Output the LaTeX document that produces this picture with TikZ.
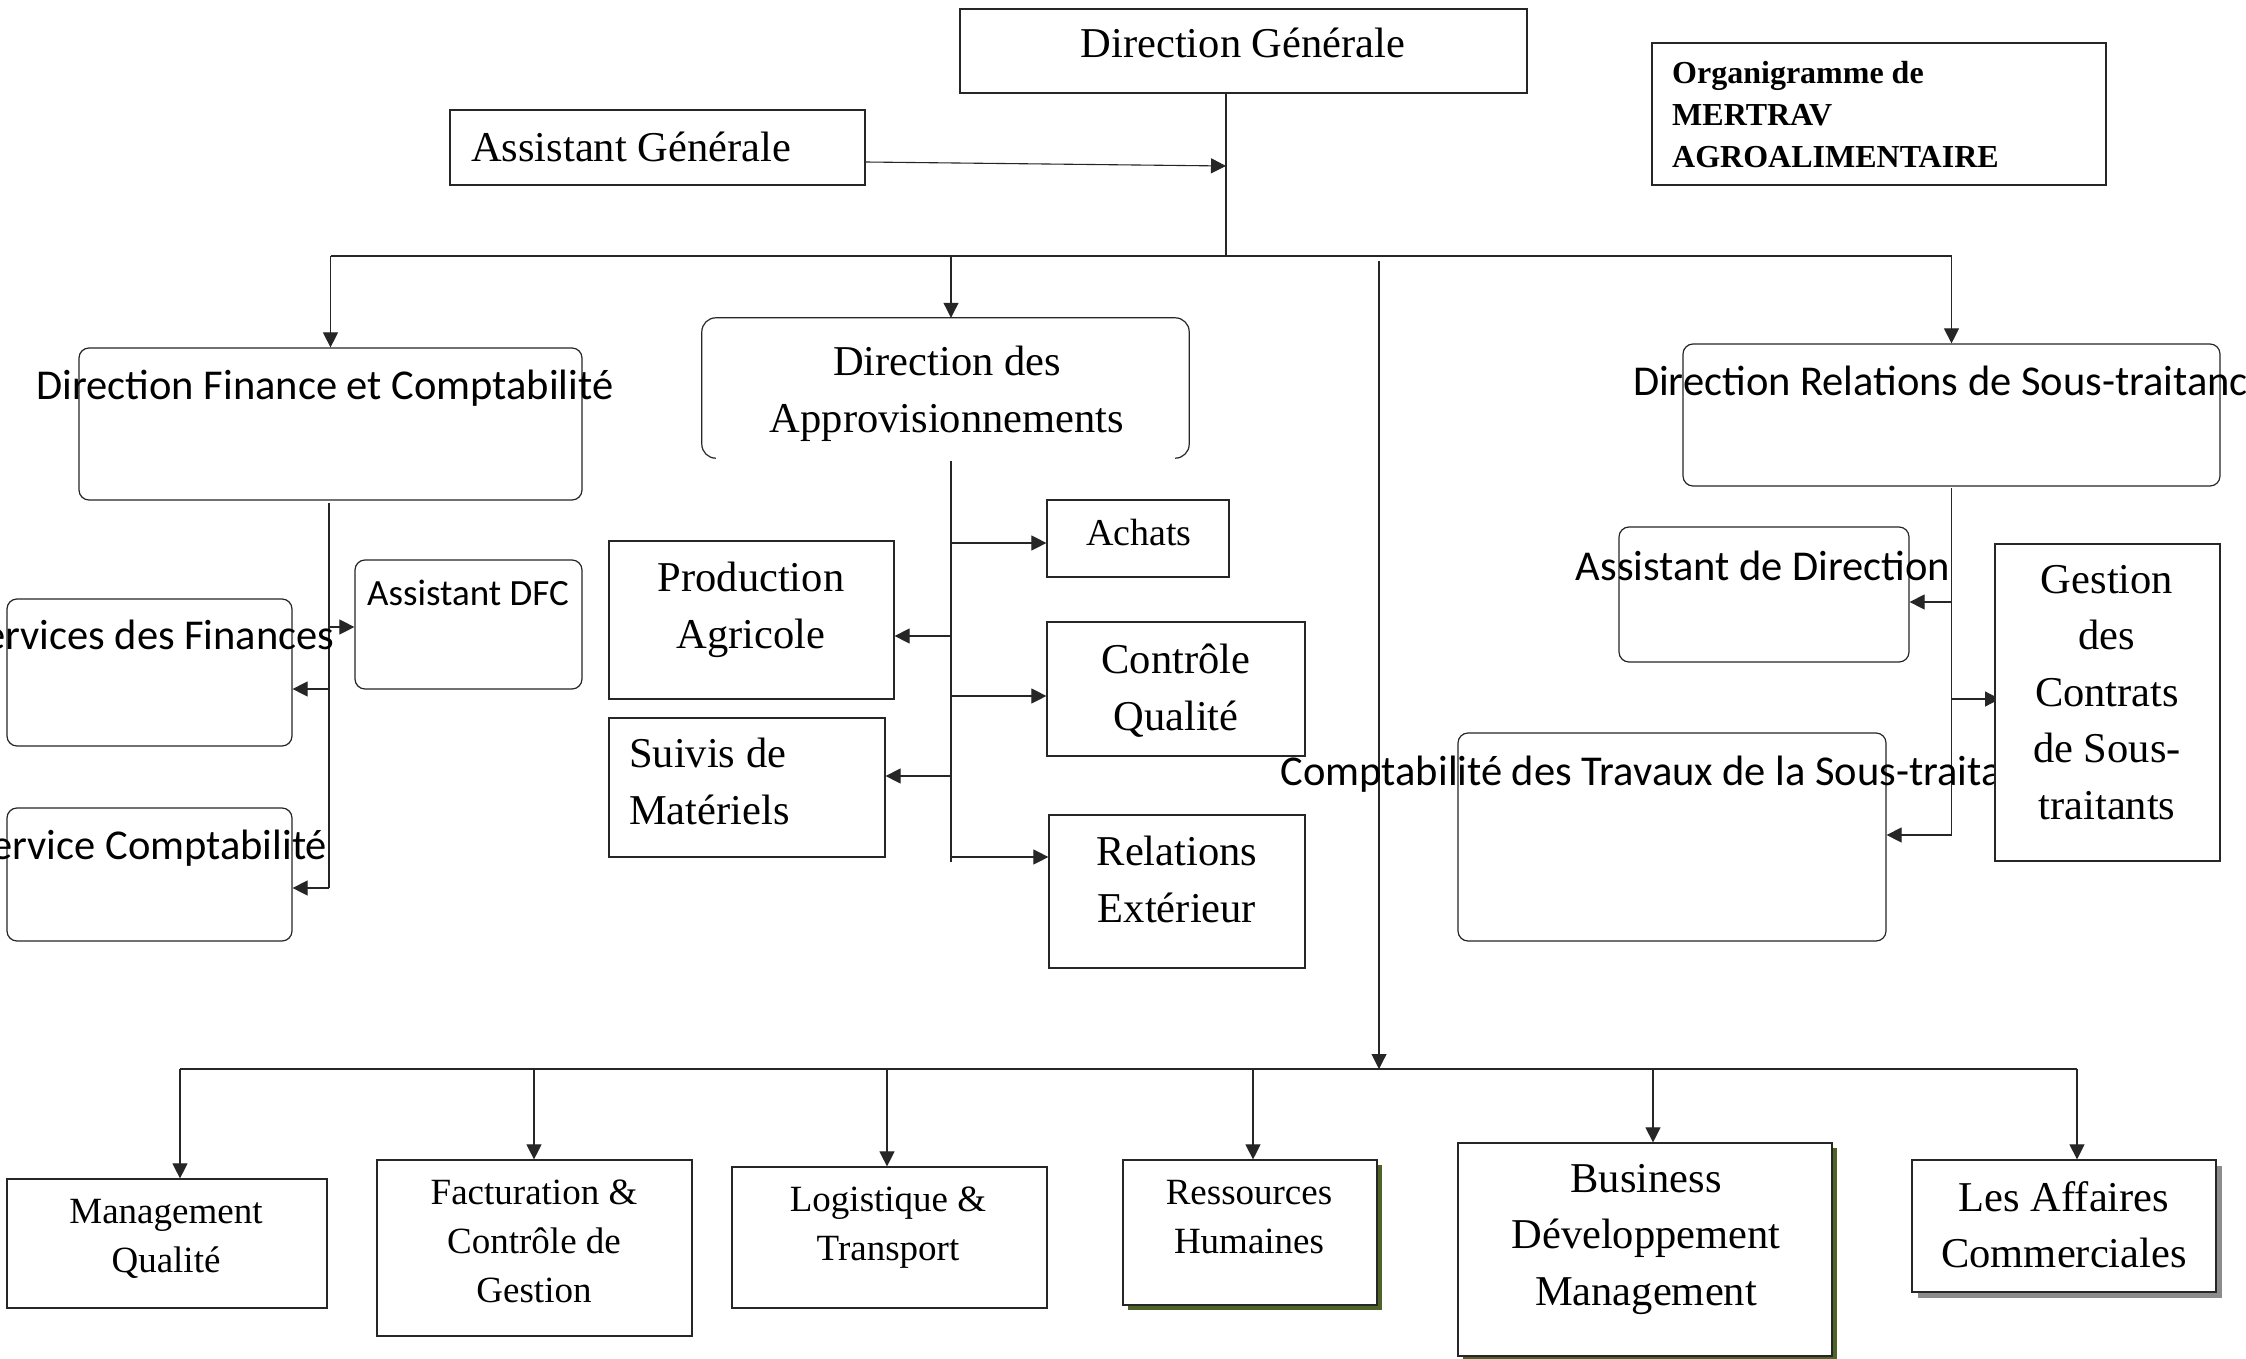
\documentclass[tikz,border=0pt]{standalone}
\usepackage{fontspec}
\setmainfont{Liberation Serif}
\newfontfamily\calibfont{Carlito}
\usetikzlibrary{arrows.meta,shadows}
\definecolor{olivedark}{RGB}{79,98,40}
\definecolor{shadowgrey}{RGB}{140,140,140}
\begin{document}
\begin{tikzpicture}[x=1pt,y=-1pt,
  box/.style={draw=black!85,line width=1.2pt,fill=white,inner sep=0pt},
  rbox/.style={box,rounded corners=10pt},
  sz/.style n args={2}{minimum width=#1pt,minimum height=#2pt},
  wire/.style={line width=1.1pt,draw=black!85},
  arr/.style={wire,-{Triangle[length=15pt,width=15pt]}},
  lbl/.style={inner sep=0pt,align=center},
  serif/.style={lbl,font=\fontsize{42.5}{56.5}\selectfont},
  serifsm/.style={lbl,font=\fontsize{37}{49}\selectfont},
  sans/.style={lbl,font=\calibfont\fontsize{42.5}{51}\selectfont},
  sanssm/.style={lbl,font=\calibfont\fontsize{37}{45}\selectfont},
  titlefont/.style={inner sep=0pt,align=left,font=\bfseries\fontsize{32}{42}\selectfont},
  oliveshadow/.style={drop shadow={shadow xshift=4.5pt,shadow yshift=-4.5pt,fill=olivedark,opacity=1}},
  greyshadow/.style={drop shadow={shadow xshift=6pt,shadow yshift=-6pt,fill=shadowgrey,opacity=1}},
]
\clip (0,0) rectangle (2246,1359);
\fill[white] (0,0) rectangle (2246,1359);

% ---------- top level ----------
\node[box,sz={567}{84}] (dg) at (1243.5,51) {};
\node[box,sz={415}{75}] (ag) at (657.5,147.5) {};
\node[box,sz={454}{142}] (org) at (1879,114) {};

% ---------- finance branch ----------
\node[rbox,sz={503}{152}] (dfc) at (330.5,424) {};
\node[rbox,sz={227}{129}] (adfc) at (468.5,624.5) {};
\node[rbox,sz={285}{147}] (sfin) at (149.5,672.5) {};
\node[rbox,sz={285}{133}] (scpt) at (149.5,874.5) {};

% ---------- supply branch ----------
\node[inner sep=0pt,sz={487}{140}] (appro) at (945.5,388) {};
\draw[line width=1.2pt,draw=black!85,rounded corners=14pt]
  ([xshift=14pt]appro.south west) -- (appro.south west) -- (appro.north west)
  -- (appro.north east) -- (appro.south east) -- ([xshift=-14pt]appro.south east);
\node[box,sz={182}{77}] (achats) at (1138,538.5) {};
\node[box,sz={285}{158}] (prod) at (751.5,620) {};
\node[box,sz={258}{134}] (cq) at (1176,689) {};
\node[box,sz={276}{139}] (suivi) at (747,787.5) {};
\node[box,sz={256}{153}] (relx) at (1177,891.5) {};

% ---------- subcontracting branch ----------
\node[rbox,sz={537}{142}] (drs) at (1951.5,415) {};
\node[rbox,sz={290}{135}] (adir) at (1764,594.5) {};
\node[rbox,sz={428}{208}] (ctst) at (1672,837) {};

% ---------- bottom row ----------
\node[box,sz={320}{129}] (mq) at (167,1243.5) {};
\node[box,sz={315}{176}] (fcg) at (534.5,1248) {};
\node[box,sz={315}{141}] (lt) at (889.5,1237.5) {};
\node[box,oliveshadow,sz={254}{145}] (rh) at (1250,1232.5) {};
\node[box,oliveshadow,sz={374}{213}] (bdm) at (1645,1249.5) {};
\node[box,greyshadow,sz={304}{132}] (lac) at (2064,1226) {};

% ---------- connectors: top ----------
\coordinate (dgfoot) at (1226,93);
\coordinate (hub) at (1226,256);
\coordinate (agin) at (1226,166);
\draw[wire] (dgfoot) -- (hub);
\draw[arr] (ag.east |- 0,162) -- (agin);
\coordinate (bL) at (330.5,256);
\coordinate (bM) at (951,256);
\coordinate (bR) at (1951.5,256);
\draw[wire] (bL) -- (bR);
\draw[arr] (bL) -- (dfc.north);
\draw[arr] (bM) -- (bM |- appro.north);
\draw[arr] (bR) -- (drs.north);

% central trunk to the bottom bus
\coordinate (trunkTop) at (1379,261);
\coordinate (trunkBot) at (1379,1069);
\draw[arr] (trunkTop) -- (trunkBot);
\coordinate (d1) at (180,1069);
\coordinate (d2) at (534,1069);
\coordinate (d3) at (887,1069);
\coordinate (d4) at (1253,1069);
\coordinate (d5) at (1653,1069);
\coordinate (d6) at (2077,1069);
\draw[wire] (d1) -- (d6);
\draw[arr] (d1) -- (d1 |- mq.north);
\draw[arr] (d2) -- (d2 |- fcg.north);
\draw[arr] (d3) -- (d3 |- lt.north);
\draw[arr] (d4) -- (d4 |- rh.north);
\draw[arr] (d5) -- (d5 |- bdm.north);
\draw[arr] (d6) -- (d6 |- lac.north);

% ---------- connectors: finance ----------
\coordinate (fT) at (329,503);
\coordinate (fB) at (329,888);
\draw[wire] (fT) -- (fB);
\draw[arr] (fT |- 0,627) -- (adfc.west |- 0,627);
\draw[arr] (fT |- 0,689) -- (sfin.east |- 0,689);
\draw[arr] (fB) -- (scpt.east |- fB);

% ---------- connectors: supply ----------
\coordinate (aT) at (951,461);
\coordinate (aB) at (951,862);
\draw[wire] (aT) -- (aB);
\draw[arr] (aT |- 0,543) -- (achats.west |- 0,543);
\draw[arr] (aT |- 0,636) -- (prod.east |- 0,636);
\draw[arr] (aT |- 0,696) -- (cq.west |- 0,696);
\draw[arr] (aT |- 0,776) -- (suivi.east |- 0,776);
\draw[arr] (aT |- 0,857) -- (relx.west |- 0,857);

% ---------- connectors: subcontracting ----------
\coordinate (sT) at (1951.5,488);
\coordinate (sB) at (1951.5,835);
\draw[wire] (sT) -- (sB);
\draw[arr] (sT |- 0,602) -- (adir.east |- 0,602);
\draw[arr] (sT |- 0,699) -- (2000,699);
\draw[arr] (sB) -- (ctst.east |- sB);

% ---------- labels ----------
\node[serif,anchor=base] (t-dg) at (1243,58) {Direction Générale};
\node[serif,anchor=base west] (t-ag) at (471,162) {Assistant Générale};
\node[titlefont,anchor=north west] (t-org) at (1672,61) {Organigramme de\\MERTRAV\\AGROALIMENTAIRE};

\node[sans,anchor=base] (t-dfc) at (325,399) {Direction Finance et Comptabilité};
\node[sanssm,anchor=base] (t-adfc) at (468,605) {Assistant DFC};
\node[sans,anchor=base] (t-sfin) at (149.5,649) {Services des Finances};
\node[sans,anchor=base] (t-scpt) at (149.5,859) {Service Comptabilité};

\node[serif,anchor=north] (t-appro) at (947,346) {Direction des\\Approvisionnements};
\node[lbl,font=\fontsize{38}{50}\selectfont,anchor=base] (t-achats) at (1139,545) {Achats};
\node[serif,anchor=north] (t-prod) at (751,562) {Production\\Agricole};
\node[serif,anchor=north] (t-cq) at (1176,644) {Contrôle\\Qualité};
\node[serif,anchor=north west,align=left] (t-suivi) at (629,738) {Suivis de\\Matériels};
\node[serif,anchor=north] (t-relx) at (1177,836) {Relations\\Extérieur};

\node[sans,anchor=base] (t-drs) at (1951,395) {Direction Relations de Sous-traitance};
\node[sans,anchor=base] (t-adir) at (1763,580) {Assistant de Direction};
\node[sans,anchor=base] (t-ctst) at (1672,785) {Comptabilité des Travaux de la Sous-traitance};

% contracts box sits on top of the long label beside it
\node[box,sz={225}{317}] (gcs) at (2107.5,702.5) {};
\node[serif,anchor=north] (t-gcs) at (2107,565) {Gestion\\des\\Contrats\\de Sous-\\traitants};

\node[serifsm,anchor=north] (t-mq) at (166,1199) {Management\\Qualité};
\node[serifsm,anchor=north] (t-fcg) at (534,1180) {Facturation \&\\Contrôle de\\Gestion};
\node[serifsm,anchor=north] (t-lt) at (888,1187) {Logistique \&\\Transport};
\node[serifsm,anchor=north] (t-rh) at (1249,1180) {Ressources\\Humaines};
\node[serif,anchor=north] (t-bdm) at (1646,1164) {Business\\Développement\\Management};
\node[serif,anchor=north] (t-lac) at (2064,1181) {Les Affaires\\Commerciales};
\end{tikzpicture}
\end{document}
